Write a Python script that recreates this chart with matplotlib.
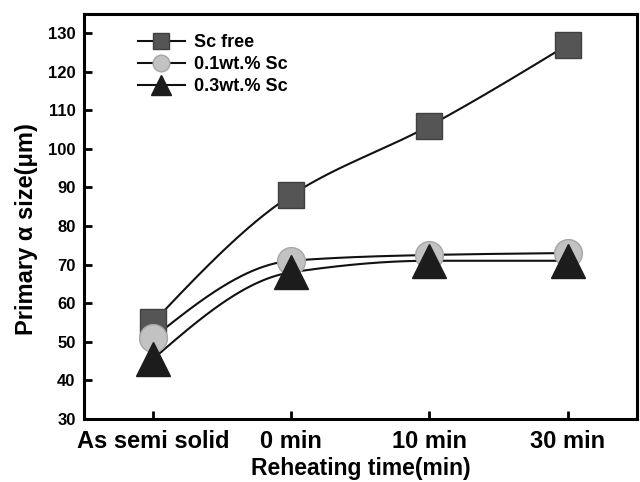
import numpy as np
import matplotlib.pyplot as plt

plt.rcParams['font.family'] = ['Liberation Sans', 'DejaVu Sans']
plt.rcParams['font.weight'] = 'bold'

categories = ['As semi solid', '0 min', '10 min', '30 min']
sc_free = [55, 88, 106, 127]
sc_01 = [51, 71, 72.5, 73]
sc_03 = [45.5, 68, 71, 71]


def pchip(xk, yk, xs):
    # monotone cubic (Fritsch-Carlson), same idea as Origin's smooth line
    xk = np.asarray(xk, float)
    yk = np.asarray(yk, float)
    h = np.diff(xk)
    d = np.diff(yk) / h
    m = np.zeros_like(yk)
    for i in range(1, len(yk) - 1):
        if d[i - 1] * d[i] > 0:
            m[i] = 2 / (1 / d[i - 1] + 1 / d[i])
    m[0] = (3 * d[0] - m[1]) / 2
    m[-1] = (3 * d[-1] - m[-2]) / 2
    out = np.empty_like(xs)
    for j, xv in enumerate(xs):
        i = min(np.searchsorted(xk, xv, side='right') - 1, len(h) - 1)
        t = (xv - xk[i]) / h[i]
        h00 = 2 * t**3 - 3 * t**2 + 1
        h10 = t**3 - 2 * t**2 + t
        h01 = -2 * t**3 + 3 * t**2
        h11 = t**3 - t**2
        out[j] = h00 * yk[i] + h10 * h[i] * m[i] + h01 * yk[i + 1] + h11 * h[i] * m[i + 1]
    return out


x = np.arange(len(categories))
xs = np.linspace(0, 3, 300)

fig, ax = plt.subplots(figsize=(6.4, 4.82), dpi=100)
fig.subplots_adjust(left=0.131, right=0.995, top=0.971, bottom=0.131)

series = [
    (sc_free, 's', '#555555', '#404040', 19, 11, 'Sc free'),
    (sc_01, 'o', '#c2c2c2', '#a6a6a6', 20, 12, '0.1wt.% Sc'),
    (sc_03, '^', '#1c1c1c', '#1c1c1c', 24, 14, '0.3wt.% Sc'),
]
for y, m, fc, ec, ms, lms, lab in series:
    ax.plot(xs, pchip(x, y, xs), color='#111111', lw=1.5, zorder=2)
    ax.plot(x, y, linestyle='none', marker=m, ms=ms, mfc=fc, mec=ec, zorder=3)
    ax.plot([], [], color='#111111', lw=1.5, marker=m, ms=lms, mfc=fc, mec=ec, label=lab)

ax.set_xlim(-0.5, 3.5)
ax.set_ylim(30, 135)
ax.set_yticks(np.arange(30, 131, 10))
ax.set_xticks(x)
ax.set_xticklabels(categories, fontsize=17, fontweight='bold')
ax.tick_params(axis='y', labelsize=12, direction='in', length=6, width=2, pad=6)
ax.tick_params(axis='x', direction='in', length=6, width=2, pad=8)
for s in ax.spines.values():
    s.set_linewidth(2.2)

ax.set_xlabel('Reheating time(min)', fontsize=16.5, fontweight='bold', labelpad=3)
ax.set_ylabel('Primary α size(μm)', fontsize=17, fontweight='bold')
ax.yaxis.set_label_coords(-0.083, 0.47)

ax.legend(loc='upper left', bbox_to_anchor=(0.068, 0.99), frameon=False, fontsize=13,
          handlelength=2.6, labelspacing=0.28, handletextpad=0.5)

fig.savefig('out.png')
